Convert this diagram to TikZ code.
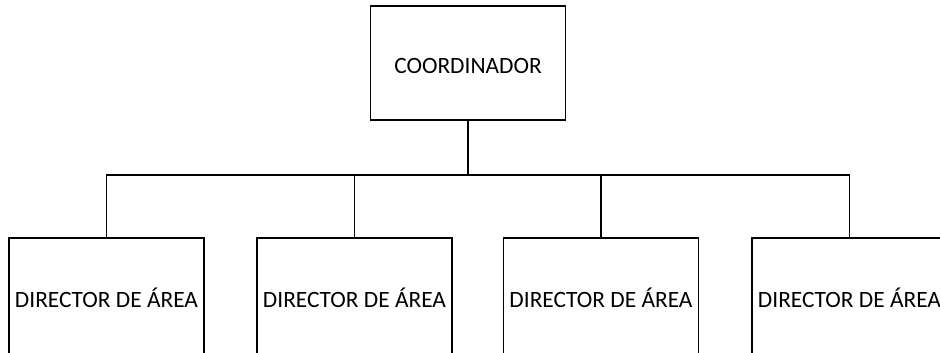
\documentclass[tikz,border=0pt]{standalone}
\usepackage{fontspec}
\setmainfont{Carlito}
\begin{document}
\begin{tikzpicture}[x=1pt,y=-1pt,
  txt/.style={font=\fontsize{23.4}{26}\selectfont},
  box/.style={draw, line width=1.2pt, minimum width=195pt, inner sep=0pt, txt},
  conn/.style={line width=1.2pt}]
\useasboundingbox (0,0) rectangle (940,353);
\clip (0,0) rectangle (940,353);
\node[box, minimum height=114pt, label={[txt, yshift=-3pt]center:COORDINADOR}] (c) at (468,63) {};
\node[box, minimum height=120pt] (d1) at (106.5,298) {DIRECTOR DE ÁREA};
\node[box, minimum height=120pt] (d2) at (354.5,298) {DIRECTOR DE ÁREA};
\node[box, minimum height=120pt] (d3) at (601,298) {DIRECTOR DE ÁREA};
\node[box, minimum height=120pt] (d4) at (849.5,298) {DIRECTOR DE ÁREA};
\coordinate (bus) at (468,175);
\draw[conn] (c.south) -- (c.south |- bus);
\draw[conn] (d1.north) -- (d1.north |- bus) -- (d4.north |- bus) -- (d4.north);
\draw[conn] (d2.north) -- (d2.north |- bus);
\draw[conn] (d3.north) -- (d3.north |- bus);
\end{tikzpicture}
\end{document}
